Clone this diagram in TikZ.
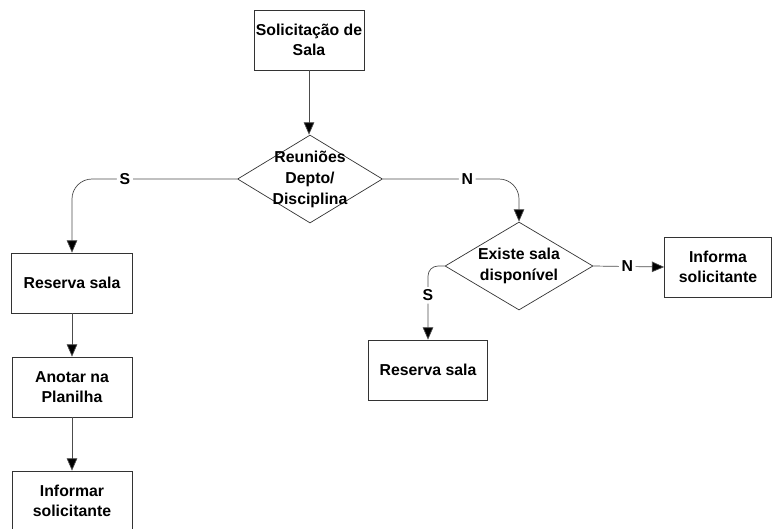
\documentclass[tikz,border=0pt]{standalone}
\usepackage{fontspec}
\setmainfont{Liberation Sans}
\usetikzlibrary{shapes.geometric, arrows.meta}

\begin{document}
\begin{tikzpicture}[x = 0.02cm, y = -0.02cm,
	box/.style = {draw = black!80, thin, minimum height = 1.2cm, align = center,
		font = \bfseries\fontsize{9}{11.5}\selectfont, inner sep = 1pt},
	decision/.style = {diamond, draw = black!80, thin, inner sep = 0pt, aspect = 1.67,
		minimum width = 2.9cm, minimum height = 1.76cm},
	caption/.style = {align = center, font = \bfseries\fontsize{9}{12}\selectfont},
	flow/.style = {draw = black!70, thin, -{Triangle[length = 7pt, width = 6pt, fill = black]},
		rounded corners = 0.4cm},
	tag/.style = {fill = white, inner sep = 1.5pt, font = \bfseries\fontsize{9}{11}\selectfont}]
	%	frame
	\def\wpic{776}
	\def\hpic{528}
	\path[use as bounding box, clip] (0, 0) rectangle (\wpic, \hpic);
	
	%	boxes
	\node[box, minimum width = 2.2cm] (pedido) at (309, 40) {Solicitação de\\Sala};
	\node[box, minimum width = 2.42cm] (reserva1) at (72, 283) {Reserva sala};
	\node[box, minimum width = 2.4cm] (anotar) at (72, 387) {Anotar na\\Planilha};
	\node[box, minimum width = 2.4cm] (informar1) at (72, 501) {Informar\\solicitante};
	\node[box, minimum width = 2.38cm] (reserva2) at (428, 370) {Reserva sala};
	\node[box, minimum width = 2.14cm] (informar2) at (718, 267) {Informa\\solicitante};
	
	%	decisions
	\node[decision] (depto) at (310, 179) {};
	\node[caption] (deptotxt) at (depto.center) {Reuniões\\Depto/\\Disciplina};
	\node[decision, minimum width = 2.96cm] (livre) at (519, 266) {};
	\node[caption] (livretxt) at (livre.center) {Existe sala\\disponível};
	
	%	connectors
	\draw[flow] (pedido) -- (pedido |- depto.north);
	\draw[flow] (depto.west) -| node[tag, pos = 0.34]{S} (reserva1.north);
	\draw[flow] (depto.east) -| node[tag, pos = 0.31]{N} (livre.north);
	\draw[flow] (livre.east) -- node[tag, pos = 0.48]{N} (informar2.west);
	\draw[flow, rounded corners = 0.2cm] (livre.west) -| node[tag, pos = 0.7]{S} (reserva2.north);
	\draw[flow] (reserva1) -- (anotar);
	\draw[flow] (anotar) -- (informar1);
\end{tikzpicture}
\end{document}
